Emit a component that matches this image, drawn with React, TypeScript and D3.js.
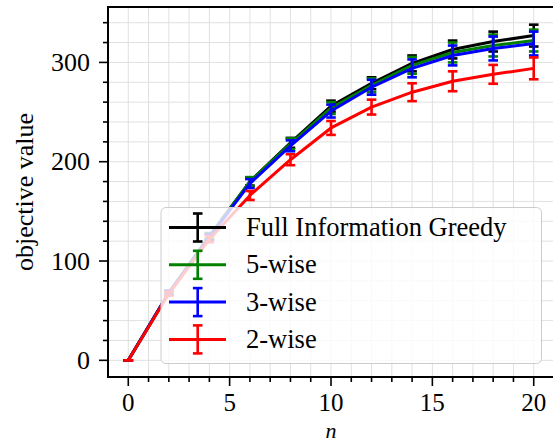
import React, { useRef, useEffect } from "react";
import * as d3 from "d3";

// data
const nValues = [0, 2, 4, 6, 8, 10, 12, 14, 16, 18, 20];
const fullGreedy = [0, 68, 125, 180, 219, 256, 279, 299, 313, 321, 327];
const fullGreedyErr = [0, 2, 3, 4, 5, 5.5, 6, 8, 9, 10, 11];
const fiveWise = [0, 68, 125, 180, 218, 254, 277, 297, 310, 317, 322];
const fiveWiseErr = [0, 2, 3, 4.5, 5.5, 6, 7, 8.5, 10, 11, 11];
const threeWise = [0, 68, 124, 178, 216, 251, 275, 294, 307, 314, 319];
const threeWiseErr = [0, 2, 3, 4.5, 5.5, 6.5, 7.5, 9, 10, 12, 12];
const twoWise = [0, 67, 122, 166, 202, 234, 255, 270, 281, 288, 294];
const twoWiseErr = [0, 2, 3, 4.5, 5.5, 7, 7.5, 9, 10, 9.5, 11];

const seriesNames = ["Full Information Greedy", "5-wise", "3-wise", "2-wise"];
const seriesColors = ["#000000", "#008000", "#0000ff", "#ff0000"];

const xMajorTicks = [0, 5, 10, 15, 20];
const yMajorTicks = [0, 100, 200, 300];

const width = 553;
const height = 443;
const box = { left: 108, right: 554, top: 7, bottom: 377 };
const font = "'Liberation Serif', 'Times New Roman', serif";

const App = () => {
  const svgRef = useRef<SVGSVGElement>(null);

  useEffect(() => {
    if (!svgRef.current) return;
    const svg = d3.select(svgRef.current);
    svg.selectAll("*").remove();

    const x = d3.scaleLinear([-1, 21], [box.left, box.right]);
    const y = d3.scaleLinear([-16.8, 355.8], [box.bottom, box.top]);

    const series = [
      { values: fullGreedy, err: fullGreedyErr },
      { values: fiveWise, err: fiveWiseErr },
      { values: threeWise, err: threeWiseErr },
      { values: twoWise, err: twoWiseErr },
    ].map((s, i) => ({ ...s, name: seriesNames[i], color: seriesColors[i] }));

    svg.append("rect").attr("width", width).attr("height", height).attr("fill", "white");

    // grid on every minor tick
    const xMinor = d3.range(0, 21, 1);
    const yMinor = d3.range(0, 356, 20);
    const grid = svg.append("g").attr("stroke", "#e0e0e0").attr("stroke-width", 1);
    grid
      .selectAll("line.gx")
      .data(xMinor)
      .join("line")
      .attr("x1", (d) => x(d))
      .attr("x2", (d) => x(d))
      .attr("y1", box.top)
      .attr("y2", box.bottom);
    grid
      .selectAll("line.gy")
      .data(yMinor)
      .join("line")
      .attr("x1", box.left)
      .attr("x2", box.right)
      .attr("y1", (d) => y(d))
      .attr("y2", (d) => y(d));

    // series lines with error bars
    const line = d3
      .line<number>()
      .x((d, i) => x(nValues[i]))
      .y((d) => y(d));

    series.forEach((s) => {
      const g = svg.append("g");
      g.append("path")
        .attr("d", line(s.values))
        .attr("fill", "none")
        .attr("stroke", s.color)
        .attr("stroke-width", 3)
        .attr("stroke-linejoin", "round");
      const bars = g
        .selectAll("g")
        .data(s.values.map((v, i) => ({ n: nValues[i], v, e: s.err[i] })))
        .join("g")
        .attr("stroke", s.color)
        .attr("stroke-width", 2.6);
      bars
        .append("line")
        .attr("x1", (d) => x(d.n))
        .attr("x2", (d) => x(d.n))
        .attr("y1", (d) => y(d.v - d.e))
        .attr("y2", (d) => y(d.v + d.e));
      [-1, 1].forEach((sgn) => {
        bars
          .append("line")
          .attr("x1", (d) => x(d.n) - 4.8)
          .attr("x2", (d) => x(d.n) + 4.8)
          .attr("y1", (d) => y(d.v + sgn * d.e))
          .attr("y2", (d) => y(d.v + sgn * d.e));
      });
    });

    // spines
    svg
      .append("rect")
      .attr("x", box.left)
      .attr("y", box.top)
      .attr("width", box.right - box.left)
      .attr("height", box.bottom - box.top)
      .attr("fill", "none")
      .attr("stroke", "black")
      .attr("stroke-width", 2);

    // ticks
    const ticks = svg.append("g").attr("stroke", "black").attr("stroke-width", 1.6);
    ticks
      .selectAll("line.xt")
      .data(xMinor)
      .join("line")
      .attr("x1", (d) => x(d))
      .attr("x2", (d) => x(d))
      .attr("y1", box.bottom)
      .attr("y2", (d) => box.bottom + (xMajorTicks.includes(d) ? 9 : 5));
    ticks
      .selectAll("line.yt")
      .data(yMinor)
      .join("line")
      .attr("class", "yt")
      .attr("x1", box.left)
      .attr("x2", (d) => box.left - (yMajorTicks.includes(d) ? 9 : 5))
      .attr("y1", (d) => y(d))
      .attr("y2", (d) => y(d));

    svg
      .append("g")
      .selectAll("text")
      .data(xMajorTicks)
      .join("text")
      .attr("x", (d) => x(d))
      .attr("y", 410.5)
      .attr("text-anchor", "middle")
      .attr("font-family", font)
      .attr("font-size", 25)
      .text((d) => d);

    svg
      .append("g")
      .selectAll("text")
      .data(yMajorTicks)
      .join("text")
      .attr("x", 90)
      .attr("y", (d) => y(d) + 8.5)
      .attr("text-anchor", "end")
      .attr("font-family", font)
      .attr("font-size", 26)
      .text((d) => d);

    svg
      .append("text")
      .attr("x", (box.left + box.right) / 2)
      .attr("y", 437.5)
      .attr("text-anchor", "middle")
      .attr("font-family", font)
      .attr("font-style", "italic")
      .attr("font-size", 22)
      .text("n");

    svg
      .append("text")
      .attr("transform", `translate(33, ${(box.top + box.bottom) / 2}) rotate(-90)`)
      .attr("text-anchor", "middle")
      .attr("font-family", font)
      .attr("font-size", 26)
      .text("objective value");

    // legend
    const legend = svg.append("g");
    legend
      .append("rect")
      .attr("x", 161)
      .attr("y", 207.5)
      .attr("width", 380.5)
      .attr("height", 156)
      .attr("rx", 5)
      .attr("fill", "white")
      .attr("fill-opacity", 0.8)
      .attr("stroke", "#cccccc")
      .attr("stroke-width", 1);

    const rows = legend
      .selectAll("g")
      .data(series)
      .join("g")
      .attr("transform", (d, i) => `translate(0, ${227.5 + i * 37.3})`);
    rows
      .append("line")
      .attr("x1", 169)
      .attr("x2", 226)
      .attr("y1", 0)
      .attr("y2", 0)
      .attr("stroke", (d) => d.color)
      .attr("stroke-width", 3);
    rows
      .append("line")
      .attr("x1", 197.7)
      .attr("x2", 197.7)
      .attr("y1", -14)
      .attr("y2", 14)
      .attr("stroke", (d) => d.color)
      .attr("stroke-width", 2.6);
    [-14, 14].forEach((dy) => {
      rows
        .append("line")
        .attr("x1", 192.9)
        .attr("x2", 202.5)
        .attr("y1", dy)
        .attr("y2", dy)
        .attr("stroke", (d) => d.color)
        .attr("stroke-width", 2.6);
    });
    rows
      .append("text")
      .attr("x", 246)
      .attr("y", 8.5)
      .attr("font-family", font)
      .attr("font-size", 26.5)
      .text((d) => d.name);
  }, []);

  return (
    <svg
      ref={svgRef}
      width={width}
      height={height}
      style={{ position: "absolute", left: 0, top: 0, display: "block" }}
    />
  );
};

export default App;
